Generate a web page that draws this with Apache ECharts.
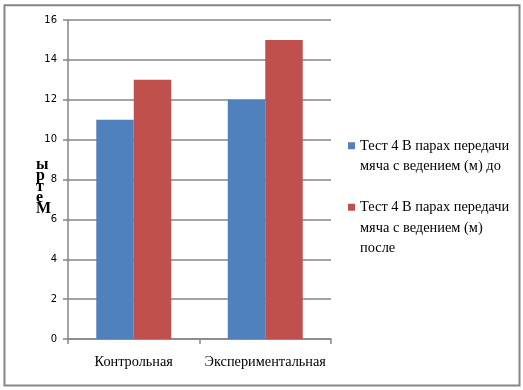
<!DOCTYPE html>
<html>
<head>
<meta charset="utf-8">
<script src="https://cdn.jsdelivr.net/npm/echarts@6/dist/echarts.min.js"></script>
<style>html,body{margin:0;padding:0;background:#fff}#c{width:523px;height:390px}</style>
</head>
<body>
<div id="c"></div>
<script>
var categories = ['Контрольная', 'Экспериментальная'];
var seriesNames = ['Тест 4 В парах передачи мяча с ведением (м) до', 'Тест 4 В парах передачи мяча с ведением (м) после'];
var legendLines = [['Тест 4 В парах передачи', 'мяча с ведением (м) до'], ['Тест 4 В парах передачи', 'мяча с ведением (м)', 'после']];
var valuesBefore = [11, 12];
var valuesAfter = [13, 15];
var yTicks = [0, 2, 4, 6, 8, 10, 12, 14, 16];
var yAxisTitle = 'Метры';

var chart = echarts.init(document.getElementById('c'), null, {renderer: 'canvas'});
var gray = '#868686';
function legendText(i) {
  var lines = legendLines[i].slice();
  var n = lines.length;
  for (var k = 1; k < n; k++) lines.unshift('\u00a0');
  return lines.join('\n');
}
var legendStyle = {fontFamily: 'Liberation Serif', fontSize: 14.4, color: '#000', lineHeight: 20.5};
chart.setOption({
  animation: false,
  backgroundColor: '#fff',
  grid: {left: 68, top: 20, right: 192, bottom: 51, containLabel: false},
  legend: [
    {data: [seriesNames[0]], orient: 'vertical', left: 348, top: 146 - 31, padding: 0, itemWidth: 7, itemHeight: 7, itemGap: 0, icon: 'rect',
     formatter: function () { return legendText(0); }, textStyle: legendStyle},
    {data: [seriesNames[1]], orient: 'vertical', left: 348, top: 207 - 51, padding: 0, itemWidth: 7, itemHeight: 7, itemGap: 0, icon: 'rect',
     formatter: function () { return legendText(1); }, textStyle: legendStyle}
  ],
  xAxis: {
    type: 'category', data: categories,
    axisLine: {lineStyle: {color: gray, width: 1.5}},
    axisTick: {show: true, alignWithLabel: false, length: 5, lineStyle: {color: gray, width: 1.5}},
    axisLabel: {interval: 0, fontFamily: 'Liberation Serif', fontSize: 14.3, color: '#000', margin: 16}
  },
  yAxis: {
    type: 'value', min: yTicks[0], max: yTicks[yTicks.length - 1], interval: yTicks[1] - yTicks[0],
    axisLine: {show: true, lineStyle: {color: gray, width: 1.5}},
    axisTick: {show: true, length: 5, lineStyle: {color: gray, width: 1.5}},
    splitLine: {show: true, lineStyle: {color: gray, width: 1.5}},
    axisLabel: {fontFamily: 'DejaVu Sans', fontSize: 10, color: '#000', margin: 11}
  },
  graphic: [
    {type: 'rect', shape: {x: 4.5, y: 5.3, width: 515, height: 380.2}, style: {fill: 'none', stroke: gray, lineWidth: 2}, silent: true, z: 100},
    {type: 'text', left: 36, top: 157, style: {text: yAxisTitle.split('').reverse().join('\n'), fontFamily: 'Liberation Serif', fontSize: 16, fontWeight: 'bold', lineHeight: 11, fill: '#000', align: 'center'}}
  ],
  series: [
    {name: seriesNames[0], type: 'bar', data: valuesBefore, barGap: '0%', barCategoryGap: '43%', itemStyle: {color: '#4f81bd'}},
    {name: seriesNames[1], type: 'bar', data: valuesAfter, barGap: '0%', barCategoryGap: '43%', itemStyle: {color: '#c0504d'}}
  ]
});
</script>
</body>
</html>
